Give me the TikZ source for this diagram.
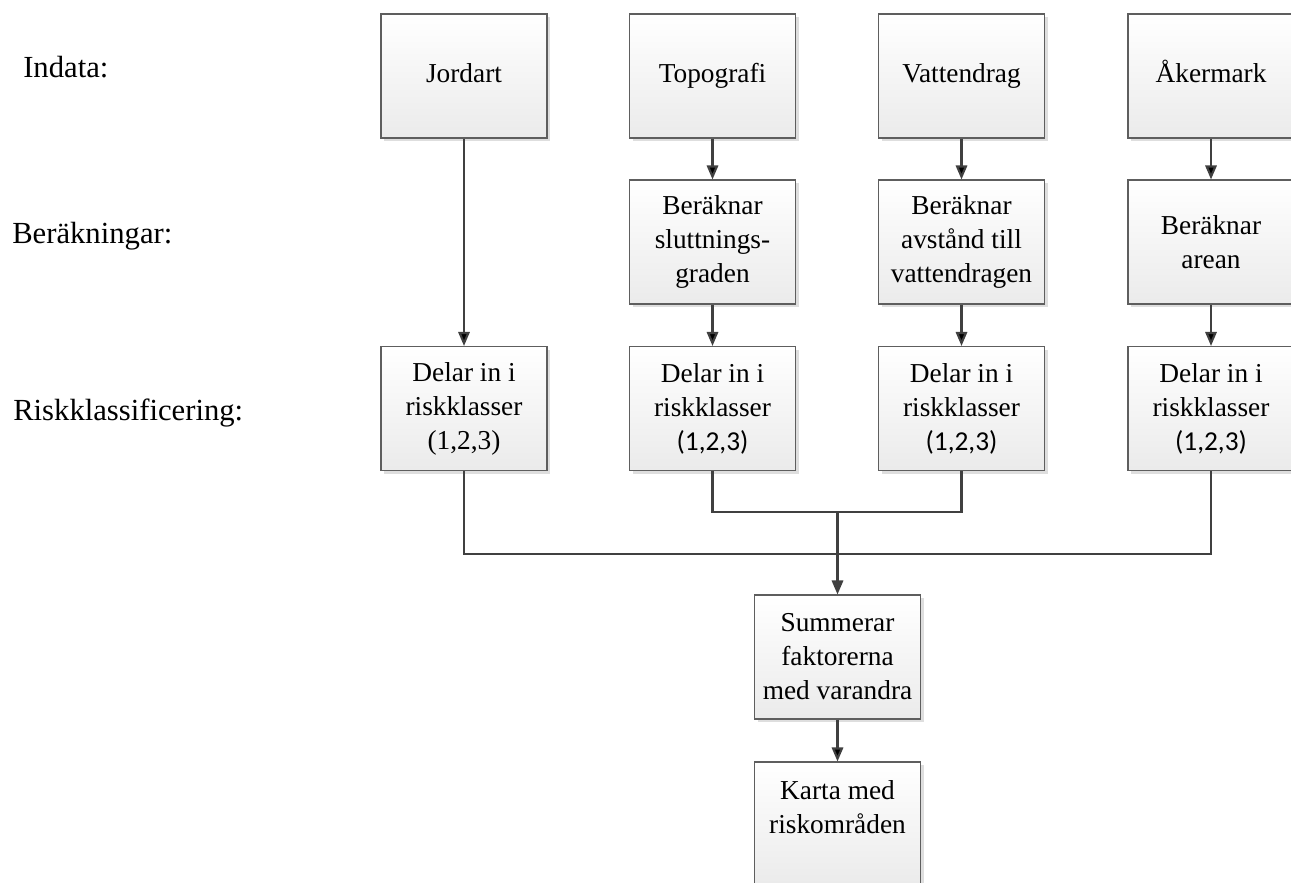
\documentclass[tikz,border=0pt]{standalone}
\usepackage{fontspec}
\setmainfont{Liberation Serif}
\newfontfamily\calibri{Carlito}
\usetikzlibrary{arrows.meta,shadows}

\definecolor{linegray}{HTML}{404040}
\definecolor{boxgray}{HTML}{5E5E5E}

\tikzset{
  stepbox/.style={rectangle, draw=boxgray, line width=0.8pt, top color=white, bottom color=black!8,
    minimum width=124.5pt, minimum height=93pt, inner sep=2pt, align=center,
    font=\fontsize{20.5pt}{25.5pt}\selectfont,
    drop shadow={shadow xshift=2.5pt, shadow yshift=-2.5pt, fill=black!13, opacity=1}},
  rowlabel/.style={anchor=base west, inner sep=0pt, font=\fontsize{23pt}{28pt}\selectfont},
  link/.style={draw=linegray, line width=1.6pt}
}

\begin{document}
\begin{tikzpicture}[x=0.75pt, y=-0.75pt, >={Triangle[width=8.5pt,length=10.5pt]}]
    \useasboundingbox (0,0) rectangle (1291,882);

    % Row labels
    \node[rowlabel] (lin) at (23, 77) {Indata:};
    \node[rowlabel] (lber) at (12, 243) {Beräkningar:};
    \node[rowlabel] (lrisk) at (13, 420) {Riskklassificering:};

    % Nodes
    % columns at 464 | 712 | 961 | 1211
    \node[stepbox] at (464, 76) (jord) {\strut Jordart};
    \node[stepbox] at (712.5, 76) (topo) {\strut Topografi};
    \node[stepbox] at (961.5, 76) (vatt) {\strut Vattendrag};
    \node[stepbox] at (1211, 76) (aker) {\strut Åkermark};

    \node[stepbox] at (712.5, 242) (slut) {Beräknar\\sluttnings-\\graden};
    \node[stepbox] at (961.5, 242) (avst) {Beräknar\\avstånd till\\vattendragen};
    \node[stepbox] at (1211, 242) (area) {Beräknar\\arean};

    \node[stepbox] at (464, 408.5) (risk1) {Delar in i\\riskklasser\\(1,2,3)};
    \node[stepbox] at (712.5, 408.5) (risk2) {Delar in i\\riskklasser\\{\calibri (1,2,3)}};
    \node[stepbox] at (961.5, 408.5) (risk3) {Delar in i\\riskklasser\\{\calibri (1,2,3)}};
    \node[stepbox] at (1211, 408.5) (risk4) {Delar in i\\riskklasser\\{\calibri (1,2,3)}};

    \node[stepbox] at (837.5, 657) (summ) {Summerar\\faktorerna\\med varandra};
    \node[stepbox] at (837.5, 824) (karta) {Karta med\\riskområden\\~};

    \coordinate (join) at (837.5, 512);
    \coordinate (bus) at (837.5, 554);

    \draw[link, ->] (jord) edge (risk1);
    \draw[link, ->] (topo) edge (slut);
    \draw[link, ->] (slut) edge (risk2);
    \draw[link, ->] (vatt) edge (avst);
    \draw[link, ->] (avst) edge (risk3);
    \draw[link, ->] (aker) edge (area);
    \draw[link, ->] (area) edge (risk4);

    \draw[link] (risk2.south) |- (join) -| (risk3.south);
    \draw[link] (risk1.south) |- (bus) -| (risk4.south);
    \draw[link, ->] (join) -- (summ);
    \draw[link, ->] (summ) edge (karta);

  \end{tikzpicture}
\end{document}
